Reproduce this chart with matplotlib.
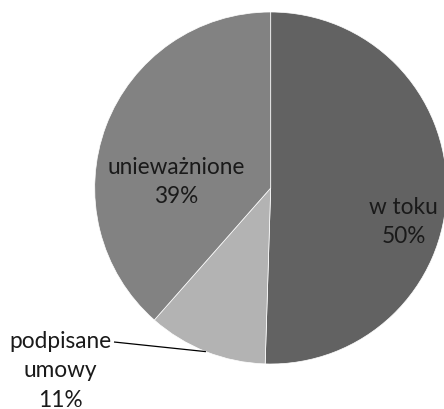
import numpy as np
import matplotlib
matplotlib.use("Agg")
import matplotlib.pyplot as plt

labels = ["w toku", "podpisane\numowy", "unieważnione"]
values = [50.5, 11.0, 38.5]
pct_labels = ["50%", "11%", "39%"]
colors = ["#626262", "#b3b3b3", "#828282"]

W, H = 444, 410
fig = plt.figure(figsize=(W / 100, H / 100), dpi=100)
ax = fig.add_axes([0, 0, 1, 1])

cx, cy, r = 270.7, H - 189, 176
wedges, _ = ax.pie(values, colors=colors, startangle=90, counterclock=False,
                   center=(cx, cy), radius=r, frame=True,
                   wedgeprops=dict(edgecolor="white", linewidth=0.5))
ax.set_xlim(0, W)
ax.set_ylim(0, H)
ax.set_aspect("equal")
ax.axis("off")

font = dict(family="Lato", fontsize=16.3, color="#1a1a1a", linespacing=1.5)

# inside labels
ax.text(403.5, H - 222, f"{labels[0]}\n{pct_labels[0]}", ha="center", va="center", **font)
ax.text(176, H - 182, f"{labels[2]}\n{pct_labels[2]}", ha="center", va="center", **font)

# outside label with leader line
ax.text(60, H - 371, f"{labels[1]}\n{pct_labels[1]}", ha="center", va="center", **font)
w = wedges[1]
mid = np.deg2rad((w.theta1 + w.theta2) / 2)
ax.plot([114, cx + r * np.cos(mid)], [H - 343, cy + r * np.sin(mid)],
        color="black", linewidth=0.9, solid_capstyle="butt")

fig.savefig("out.png", dpi=100)
